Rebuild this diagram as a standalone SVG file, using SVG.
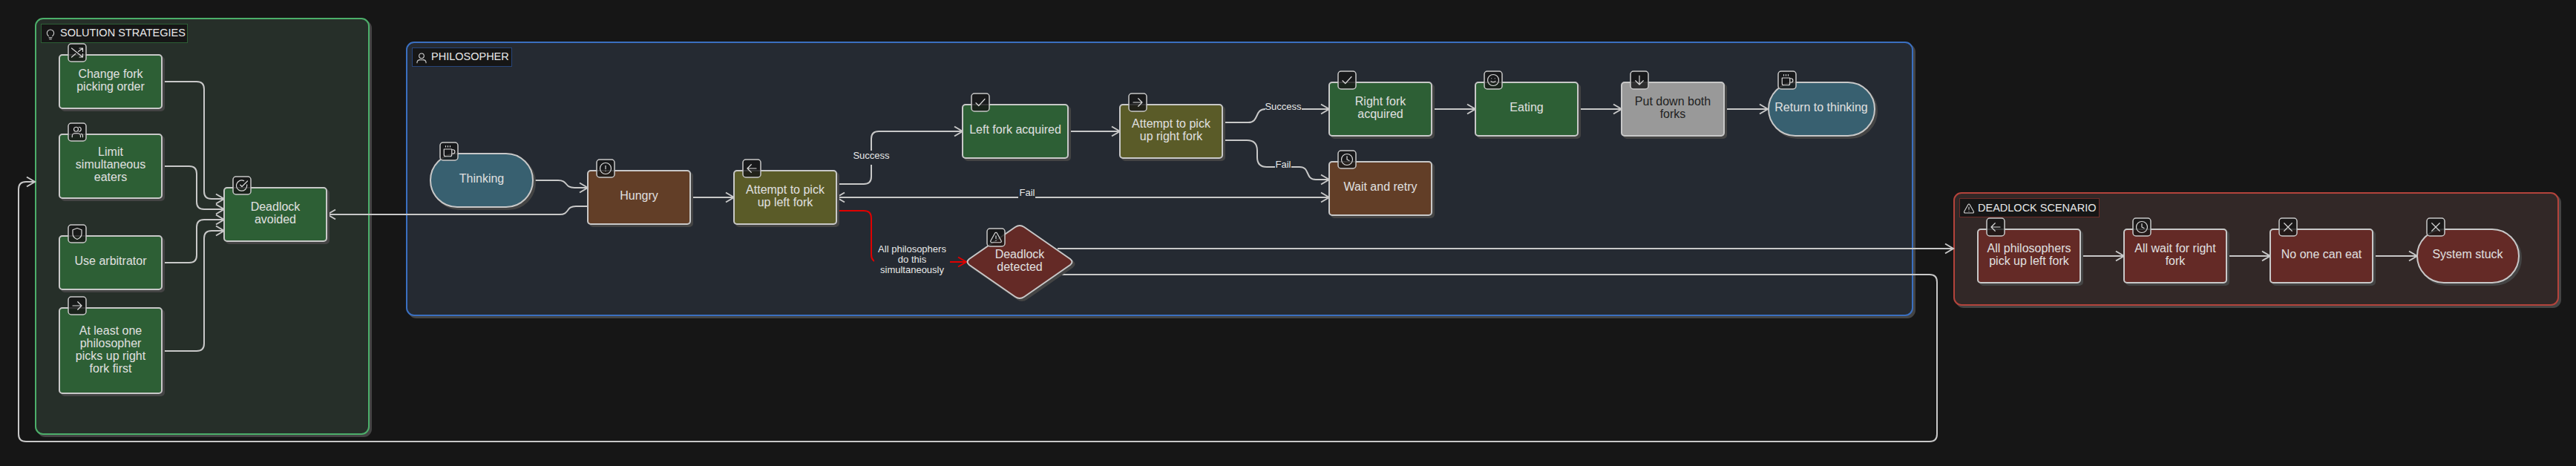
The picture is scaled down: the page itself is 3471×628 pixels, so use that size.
<svg xmlns="http://www.w3.org/2000/svg" width="3471" height="628" viewBox="0 0 3471 628">
<style>
text{font-family:"Liberation Sans",Arial,sans-serif;text-anchor:middle}
.n{stroke:#c8c8c8;stroke-width:2;filter:drop-shadow(3px 3px 0 #444)}
.t{font-size:16px;fill:#e0e0e0}
.dark{fill:#222}
.g{fill:#2d5f35}.b{fill:#623e27}.o{fill:#5a5b28}.s{fill:#386070}.r{fill:#642a26}.y{fill:#999}
.bd{fill:#161616;fill-opacity:.82;stroke:#c8c8c8;stroke-width:1.5}
.ic{fill:none;stroke:#d8d8d8;stroke-width:1.6;stroke-linecap:round;stroke-linejoin:round}
.cl{stroke-width:2;filter:drop-shadow(3px 3px 0 #444)}
.cb{fill:#161616;stroke-width:1}
.ct{font-size:14.500px;fill:#e8e8e8;text-anchor:start}
.e{fill:none;stroke:#c8c8c8;stroke-width:2;marker-end:url(#a)}
.el{font-size:13px;fill:#e8e8e8}
</style>
<defs>
<marker id="a" markerUnits="userSpaceOnUse" markerWidth="14" markerHeight="16" refX="12" refY="8" orient="auto-start-reverse" viewBox="0 0 14 16"><path d="M1 1.500L12 8L1 14.500" fill="none" stroke="#c8c8c8" stroke-width="2"/></marker>
<marker id="ar" markerUnits="userSpaceOnUse" markerWidth="14" markerHeight="16" refX="12" refY="8" orient="auto" viewBox="0 0 14 16"><path d="M1 1.500L12 8L1 14.500" fill="none" stroke="#e00000" stroke-width="2"/></marker>
<symbol id="i-shuffle" viewBox="0 0 24 24"><path class="ic" d="M2 4L22 20M2 20L9 14M14 10L22 4M16 4H22V10M16 20H22V14"/></symbol>
<symbol id="i-users" viewBox="0 0 24 24"><path class="ic" d="M3 21V19A5 5 0 0 1 8 14H13A5 5 0 0 1 18 19V21M22 21V19A4 4 0 0 0 19 15M15 3A4 4 0 0 1 15 11"/><circle class="ic" cx="10" cy="7" r="4"/></symbol>
<symbol id="i-shield" viewBox="0 0 24 24"><path class="ic" d="M12 22C17 20 20 17 20 12V5L12 2L4 5V12C4 17 7 20 12 22Z"/></symbol>
<symbol id="i-right" viewBox="0 0 24 24"><path class="ic" d="M4 12H20M13 5L20 12L13 19"/></symbol>
<symbol id="i-left" viewBox="0 0 24 24"><path class="ic" d="M20 12H4M11 5L4 12L11 19"/></symbol>
<symbol id="i-down" viewBox="0 0 24 24"><path class="ic" d="M12 4V20M5 13L12 20L19 13"/></symbol>
<symbol id="i-check" viewBox="0 0 24 24"><path class="ic" d="M4 13L9 18L20 6"/></symbol>
<symbol id="i-checkc" viewBox="0 0 24 24"><path class="ic" d="M21 10.500V12A9.500 9.500 0 1 1 15.500 3.500M9 11L12 14L22 4"/></symbol>
<symbol id="i-clock" viewBox="0 0 24 24"><circle class="ic" cx="12" cy="12" r="10"/><path class="ic" d="M12 6V12L16 14"/></symbol>
<symbol id="i-smile" viewBox="0 0 24 24"><circle class="ic" cx="12" cy="12" r="10"/><path class="ic" d="M8 14C9 16 15 16 16 14M9 9H9.010M15 9H15.010"/></symbol>
<symbol id="i-x" viewBox="0 0 24 24"><path class="ic" d="M5 5L19 19M19 5L5 19"/></symbol>
<symbol id="i-coffee" viewBox="0 0 24 24"><path class="ic" d="M6 2V4M10 2V4M14 2V4M3 8H17V18A3 3 0 0 1 14 21H6A3 3 0 0 1 3 18ZM17 9H19A3 3 0 0 1 19 16H17"/></symbol>
<symbol id="i-alert" viewBox="0 0 24 24"><circle class="ic" cx="12" cy="12" r="10"/><path class="ic" d="M12 7V13M12 16.500H12.010"/></symbol>
<symbol id="i-warn" viewBox="0 0 24 24"><path class="ic" d="M10.300 4L2.500 18A2 2 0 0 0 4.300 21H19.700A2 2 0 0 0 21.500 18L13.700 4A2 2 0 0 0 10.300 4ZM12 9V14M12 17.500H12.010"/></symbol>
<symbol id="i-user" viewBox="0 0 24 24"><circle class="ic" cx="12" cy="8" r="5"/><path class="ic" d="M3 22V20A6 6 0 0 1 9 16H15A6 6 0 0 1 21 20V22"/></symbol>
<symbol id="i-bulb" viewBox="0 0 24 24"><path class="ic" d="M8 16C6 14 5 12 5 10A7 7 0 0 1 19 10C19 12 18 14 16 16M9 19H15M10 22H14"/></symbol>
</defs>
<rect width="3471" height="628" fill="#161616"/>
<g id="cluster-solution"><rect class="cl" x="48" y="25" width="449" height="560" rx="10" fill="#262f29" stroke="#4caf6a"/><rect class="cb" x="55.500" y="32.500" width="197" height="25" stroke="#2d5f35"/><use href="#i-bulb" x="60" y="38" width="16" height="16"/><text class="ct" x="81" y="49">SOLUTION STRATEGIES</text></g>
<g id="cluster-philosopher"><rect class="cl" x="548" y="57" width="2029" height="368" rx="10" fill="#252a32" stroke="#3a6fc0"/><rect class="cb" x="555.500" y="64.500" width="134" height="25" stroke="#27457a"/><use href="#i-user" x="560" y="70" width="16" height="16"/><text class="ct" x="581" y="81">PHILOSOPHER</text></g>
<g id="cluster-deadlock"><rect class="cl" x="2633" y="260" width="814" height="151" rx="10" fill="#322827" stroke="#b3433b"/><rect class="cb" x="2640.500" y="267.500" width="188" height="25" stroke="#6e2c28"/><use href="#i-warn" x="2645" y="273" width="16" height="16"/><text class="ct" x="2665" y="285">DEADLOCK SCENARIO</text></g>
<g id="connectors">
<path class="e" d="M218 110H265Q275 110 275 120V258Q275 268 285 268H302"/>
<path class="e" d="M218 224H255Q265 224 265 234V272Q265 282 275 282H302"/>
<path class="e" d="M218 354H255Q265 354 265 344V306Q265 296 275 296H302"/>
<path class="e" d="M218 473H265Q275 473 275 463V321Q275 311 285 311H302"/>
<path class="e" d="M720 243H752C766 243 760 253 774 253H792"/>
<path class="e" d="M792 278H776C762 278 768 289 754 289H441"/>
<path class="e" d="M930 266H989"/>
<path class="e" d="M1127 248H1164Q1174 248 1174 238V187Q1174 177 1184 177H1297"/>
<path class="e" d="M1439 177H1509"/>
<path class="e" d="M1647 165H1682C1697 165 1690 147 1705 147H1791"/>
<path class="e" d="M1647 189H1680Q1694 189 1694 203V212Q1694 225 1707 225H1751C1766 225 1758 242 1773 242H1791"/>
<path class="e" d="M1791 266H1127" style="marker-start:url(#a)"/>
<path d="M1127 284H1164Q1174 284 1174 294V343Q1174 353 1184 353H1302" fill="none" stroke="#e00000" stroke-width="2" marker-end="url(#ar)"/>
<path class="e" d="M1929 147H1988"/>
<path class="e" d="M2126 147H2185"/>
<path class="e" d="M2323 147H2382"/>
<path class="e" d="M1425 335H2632"/>
<path class="e" d="M1429 370H2600Q2610 370 2610 380V585Q2610 595 2600 595H35Q25 595 25 585V255Q25 245 35 245H47"/>
<path class="e" d="M2803 345H2862"/>
<path class="e" d="M3000 345H3059"/>
<path class="e" d="M3197 345H3257"/>
<g id="edge-labels">
<rect x="1149" y="203" width="50" height="19" fill="#252a32"/><text class="el" x="1174" y="214">Success</text>
<rect x="1372" y="251" width="23" height="18" fill="#252a32"/><text class="el" x="1384" y="264">Fail</text>
<rect x="1178" y="326" width="102" height="46" fill="#252a32"/><text class="el" x="1229" y="340">All philosophers</text><text class="el" x="1229" y="354">do this</text><text class="el" x="1229" y="368">simultaneously</text>
<rect x="1705" y="135" width="49" height="17" fill="#252a32"/><text class="el" x="1729" y="148">Success</text>
<rect x="1718" y="212" width="22" height="18" fill="#252a32"/><text class="el" x="1729" y="226">Fail</text>
</g>
</g>
<g id="n-change"><rect class="n g" x="80" y="74" width="138" height="72" rx="4"/><rect class="bd" x="92" y="59" width="24" height="24" rx="4"/><use href="#i-shuffle" x="95" y="62" width="18" height="18"/><text class="t" x="149" y="105">Change fork</text><text class="t" x="149" y="122">picking order</text></g>
<g id="n-limit"><rect class="n g" x="80" y="181" width="138" height="86" rx="4"/><rect class="bd" x="92" y="166" width="24" height="24" rx="4"/><use href="#i-users" x="95" y="169" width="18" height="18"/><text class="t" x="149" y="210">Limit</text><text class="t" x="149" y="227">simultaneous</text><text class="t" x="149" y="244">eaters</text></g>
<g id="n-arbitrator"><rect class="n g" x="80" y="318" width="138" height="72" rx="4"/><rect class="bd" x="92" y="303" width="24" height="24" rx="4"/><use href="#i-shield" x="95" y="306" width="18" height="18"/><text class="t" x="149" y="357">Use arbitrator</text></g>
<g id="n-atleast"><rect class="n g" x="80" y="415" width="138" height="115" rx="4"/><rect class="bd" x="92" y="400" width="24" height="24" rx="4"/><use href="#i-right" x="95" y="403" width="18" height="18"/><text class="t" x="149" y="451">At least one</text><text class="t" x="149" y="468">philosopher</text><text class="t" x="149" y="485">picks up right</text><text class="t" x="149" y="502">fork first</text></g>
<g id="n-avoided"><rect class="n g" x="302" y="253" width="138" height="72" rx="4"/><rect class="bd" x="314" y="238" width="24" height="24" rx="4"/><use href="#i-checkc" x="317" y="241" width="18" height="18"/><text class="t" x="371" y="284">Deadlock</text><text class="t" x="371" y="301">avoided</text></g>
<g id="n-thinking"><rect class="n s" x="580" y="207" width="138" height="72" rx="36"/><rect class="bd" x="593" y="192" width="24" height="24" rx="4"/><use href="#i-coffee" x="596" y="195" width="18" height="18"/><text class="t" x="649" y="246">Thinking</text></g>
<g id="n-hungry"><rect class="n b" x="792" y="230" width="138" height="72" rx="4"/><rect class="bd" x="804" y="215" width="24" height="24" rx="4"/><use href="#i-alert" x="807" y="218" width="18" height="18"/><text class="t" x="861" y="269">Hungry</text></g>
<g id="n-attemptleft"><rect class="n o" x="989" y="230" width="138" height="72" rx="4"/><rect class="bd" x="1001" y="215" width="24" height="24" rx="4"/><use href="#i-left" x="1004" y="218" width="18" height="18"/><text class="t" x="1058" y="261">Attempt to pick</text><text class="t" x="1058" y="278">up left fork</text></g>
<g id="n-leftfork"><rect class="n g" x="1297" y="141" width="142" height="72" rx="4"/><rect class="bd" x="1309" y="126" width="24" height="24" rx="4"/><use href="#i-check" x="1312" y="129" width="18" height="18"/><text class="t" x="1368" y="180">Left fork acquired</text></g>
<g id="n-attemptright"><rect class="n o" x="1509" y="141" width="138" height="72" rx="4"/><rect class="bd" x="1521" y="126" width="24" height="24" rx="4"/><use href="#i-right" x="1524" y="129" width="18" height="18"/><text class="t" x="1578" y="172">Attempt to pick</text><text class="t" x="1578" y="189">up right fork</text></g>
<g id="n-detected"><path class="n r" d="M1368 306Q1374 302 1380 306L1442 349Q1447 353 1442 357L1380 400Q1374 404 1368 400L1306 357Q1301 353 1306 349Z"/><rect class="bd" x="1330" y="308" width="24" height="24" rx="4"/><use href="#i-warn" x="1333" y="311" width="18" height="18"/><text class="t" x="1374" y="348">Deadlock</text><text class="t" x="1374" y="365">detected</text></g>
<g id="n-rightfork"><rect class="n g" x="1791" y="111" width="138" height="72" rx="4"/><rect class="bd" x="1803" y="96" width="24" height="24" rx="4"/><use href="#i-check" x="1806" y="99" width="18" height="18"/><text class="t" x="1860" y="142">Right fork</text><text class="t" x="1860" y="159">acquired</text></g>
<g id="n-eating"><rect class="n g" x="1988" y="111" width="138" height="72" rx="4"/><rect class="bd" x="2000" y="96" width="24" height="24" rx="4"/><use href="#i-smile" x="2003" y="99" width="18" height="18"/><text class="t" x="2057" y="150">Eating</text></g>
<g id="n-putdown"><rect class="n y" x="2185" y="111" width="138" height="72" rx="4"/><rect class="bd" x="2197" y="96" width="24" height="24" rx="4"/><use href="#i-down" x="2200" y="99" width="18" height="18"/><text class="t dark" x="2254" y="142">Put down both</text><text class="t dark" x="2254" y="159">forks</text></g>
<g id="n-return"><rect class="n s" x="2383" y="111" width="143" height="72" rx="36"/><rect class="bd" x="2396" y="96" width="24" height="24" rx="4"/><use href="#i-coffee" x="2399" y="99" width="18" height="18"/><text class="t" x="2454" y="150">Return to thinking</text></g>
<g id="n-wait"><rect class="n b" x="1791" y="218" width="138" height="72" rx="4"/><rect class="bd" x="1803" y="203" width="24" height="24" rx="4"/><use href="#i-clock" x="1806" y="206" width="18" height="18"/><text class="t" x="1860" y="257">Wait and retry</text></g>
<g id="n-allleft"><rect class="n r" x="2665" y="309" width="138" height="72" rx="4"/><rect class="bd" x="2677" y="294" width="24" height="24" rx="4"/><use href="#i-left" x="2680" y="297" width="18" height="18"/><text class="t" x="2734" y="340">All philosophers</text><text class="t" x="2734" y="357">pick up left fork</text></g>
<g id="n-allwait"><rect class="n r" x="2862" y="309" width="138" height="72" rx="4"/><rect class="bd" x="2874" y="294" width="24" height="24" rx="4"/><use href="#i-clock" x="2877" y="297" width="18" height="18"/><text class="t" x="2931" y="340">All wait for right</text><text class="t" x="2931" y="357">fork</text></g>
<g id="n-noone"><rect class="n r" x="3059" y="309" width="138" height="72" rx="4"/><rect class="bd" x="3071" y="294" width="24" height="24" rx="4"/><use href="#i-x" x="3074" y="297" width="18" height="18"/><text class="t" x="3128" y="348">No one can eat</text></g>
<g id="n-stuck"><rect class="n r" x="3257" y="309" width="137" height="72" rx="36"/><rect class="bd" x="3270" y="294" width="24" height="24" rx="4"/><use href="#i-x" x="3273" y="297" width="18" height="18"/><text class="t" x="3325" y="348">System stuck</text></g>
</svg>
